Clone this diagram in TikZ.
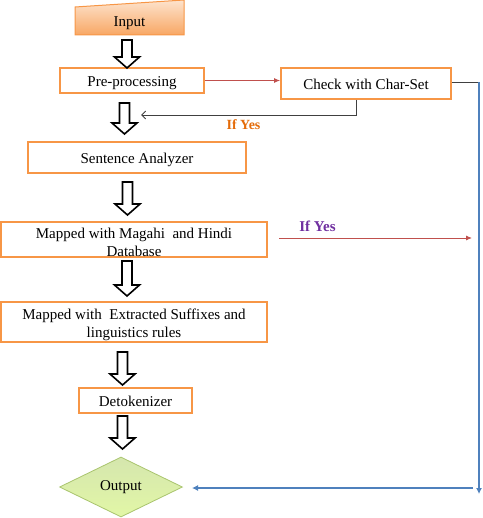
\documentclass[tikz,border=0pt]{standalone}
\usepackage{fontspec}
\setmainfont{Liberation Serif}
\usetikzlibrary{arrows.meta,calc,shapes.geometric}
\definecolor{boxorange}{HTML}{F79646}
\definecolor{linered}{HTML}{C0504D}
\definecolor{lineblue}{HTML}{4F81BD}
\definecolor{lineDark}{HTML}{404040}
\definecolor{yesorange}{HTML}{E46C0A}
\definecolor{yespurple}{HTML}{7030A0}
\definecolor{intop}{HTML}{FDE3CD}
\definecolor{inbot}{HTML}{F8A764}
\definecolor{gtop}{HTML}{D5E6AE}
\definecolor{gbot}{HTML}{E2F7A6}
\definecolor{gborder}{HTML}{A9C46E}
\newcommand\blockarr[3]{%
  \draw[barrowstyle] (#1-5,#2) -- (#1+5,#2) -- (#1+5,#3-11) -- (#1+12.5,#3-11) -- (#1,#3)
    -- (#1-12.5,#3-11) -- (#1-5,#3-11) -- cycle;}
\tikzset{
  txt/.style={font=\fontsize{15}{18}\selectfont, align=center, inner sep=0pt},
  oneline/.style={text height=14.5pt, text depth=3pt},
  box/.style={txt, draw=boxorange, line width=1.8pt, fill=white},
  barrowstyle/.style={draw=black, line width=1.6pt, fill=white, line join=miter},
  redarrow/.style={draw=linered, line width=0.9pt, -{Latex[length=6pt,width=5pt]}},
  bluearrow/.style={draw=lineblue, line width=1.1pt, -{Latex[length=6pt,width=6pt]}},
  darkline/.style={draw=lineDark, line width=0.9pt},
  yeslabel/.style={font=\bfseries\fontsize{14}{16}\selectfont, inner sep=0pt},
}
\begin{document}
\begin{tikzpicture}[x=1pt,y=-1pt]
\useasboundingbox (0,0) rectangle (482,518);
% Input
\path[draw=boxorange, line width=1pt, top color=intop, bottom color=inbot]
  (75,7) -- (184,0) -- (184,35) -- (75,35) -- cycle;
\node[txt, oneline] (input) at (129.5,21) {Input};
% boxes
\node[box, oneline, minimum width=144pt, minimum height=25pt] (pre) at (132,80.5) {Pre-processing};
\node[box, oneline, minimum width=170pt, minimum height=31pt] (check) at (366,83.5) {Check with Char-Set};
\node[box, oneline, minimum width=218pt, minimum height=31pt] (sent) at (137,157.5) {Sentence Analyzer};
\node[box, minimum width=266pt, minimum height=35pt] (magahi) at (134,239.5) {};
\node[txt, yshift=-2.5pt] (magahitxt) at (magahi.center) {Mapped with Magahi~ and Hindi\\Database};
\node[box, minimum width=266pt, minimum height=40pt] (extr) at (134,322) {};
\node[txt, yshift=-2.5pt] (extrtxt) at (extr.center) {Mapped with~ Extracted Suffixes and\\linguistics rules};
\node[box, oneline, minimum width=113pt, minimum height=25pt] (detok) at (135.5,400.5) {Detokenizer};
\node[txt, diamond, draw=gborder, line width=0.8pt, top color=gtop, bottom color=gbot,
  minimum width=123pt, minimum height=60pt, aspect=2] (out) at (121,487) {Output};
% block arrows
\blockarr{127}{40}{68}
\blockarr{124.5}{103}{134}
\blockarr{127.5}{182}{215}
\blockarr{127}{261}{296}
\blockarr{122.5}{352}{385}
\blockarr{122.5}{416}{449}
% connectors
\draw[redarrow] (pre.east) -- (pre.east -| check.west);
\coordinate (fbtop) at ($(check.south)+(-10,0)$);
\coordinate (fbend) at (141,115);
\draw[darkline, -{Straight Barb[length=4pt,width=8pt]}] (fbtop) |- (fbend);
\node[yeslabel, text=yesorange] (yes1) at (243.5,125) {If Yes};
\coordinate (rc) at (479,82);
\coordinate (rb) at (479,494);
\draw[darkline] (check.east |- rc) -- (rc);
\draw[bluearrow] (rc) -- (rb);
\coordinate (bs) at (473,488);
\coordinate (be) at (192,488);
\draw[bluearrow] (bs) -- (be);
\coordinate (ys) at (279,238);
\coordinate (ye) at (472,238);
\draw[redarrow] (ys) -- (ye);
\node[yeslabel, text=yespurple, font=\bfseries\fontsize{15}{17}\selectfont] (yes2) at (317.5,226) {If Yes};
\end{tikzpicture}
\end{document}
